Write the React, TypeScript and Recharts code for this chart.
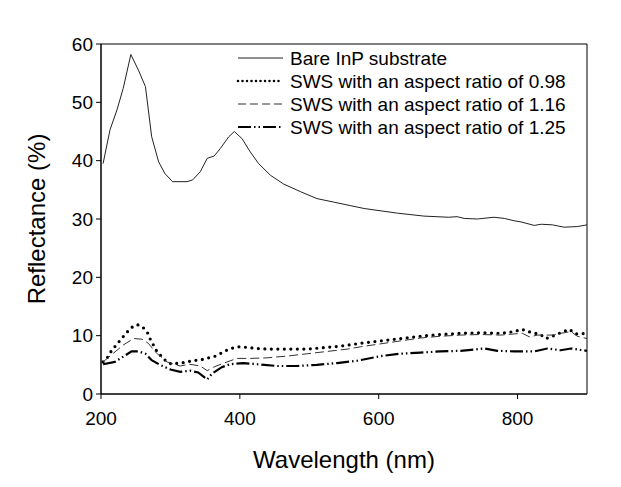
import { LineChart, Line, XAxis, YAxis, ReferenceArea, Legend } from "recharts";

// Bare InP substrate
const bareWl = [203, 213, 223, 232, 243, 254, 264, 273, 283, 292, 303, 324, 332, 343, 353, 363, 372, 384, 392, 403, 415, 427, 444, 463, 487, 511, 535, 559, 579, 627, 665, 701, 713, 723, 742, 766, 781, 795, 805, 824, 834, 850, 867, 886, 900];
const bareR = [39.5, 45.3, 48.7, 52.4, 58.2, 55.5, 52.7, 44.1, 39.8, 37.8, 36.4, 36.4, 36.7, 38.1, 40.4, 40.8, 42.1, 44.1, 45.0, 43.8, 41.5, 39.5, 37.5, 36.0, 34.7, 33.5, 32.9, 32.3, 31.8, 31.0, 30.5, 30.3, 30.4, 30.1, 30.0, 30.3, 30.1, 29.7, 29.5, 28.9, 29.1, 29.0, 28.6, 28.7, 29.0];

// SWS, aspect ratio 0.98
const sws098Wl = [203, 209, 215, 236, 244, 252, 260, 267, 271, 280, 288, 295, 302, 312, 321, 331, 338, 345, 355, 365, 373, 381, 390, 398, 410, 425, 439, 468, 497, 526, 545, 574, 603, 631, 660, 689, 718, 747, 776, 795, 806, 815, 833, 841, 850, 860, 874, 884, 900];
const sws098R = [5.5, 6.2, 7.4, 10.4, 11.4, 11.9, 11.5, 10.5, 9.4, 7.4, 6.3, 5.5, 5.1, 5.3, 5.4, 5.7, 5.8, 5.9, 6.2, 6.5, 7.0, 7.5, 7.9, 8.1, 8.0, 7.8, 7.7, 7.7, 7.7, 8.0, 8.2, 8.7, 9.1, 9.5, 9.9, 10.2, 10.4, 10.5, 10.4, 10.7, 11.1, 10.7, 10.2, 9.5, 9.9, 10.4, 11.1, 10.3, 10.4];

// SWS, aspect ratio 1.16
const sws116Wl = [203, 218, 232, 247, 259, 268, 280, 295, 314, 328, 343, 353, 362, 377, 396, 415, 439, 468, 497, 526, 555, 574, 603, 631, 660, 689, 718, 747, 776, 795, 807, 817, 829, 841, 852, 862, 877, 886, 900];
const sws116R = [5.5, 7.0, 8.4, 9.5, 9.4, 8.7, 7.0, 5.5, 4.8, 5.1, 4.8, 4.0, 4.6, 5.3, 6.1, 6.1, 6.2, 6.5, 6.9, 7.3, 7.7, 8.1, 8.6, 9.1, 9.6, 9.9, 10.1, 10.2, 10.1, 10.3, 10.4, 9.8, 10.1, 10.1, 10.1, 10.4, 10.7, 9.9, 9.5];

// SWS, aspect ratio 1.25
const sws125Wl = [203, 220, 232, 244, 254, 264, 273, 285, 300, 314, 328, 340, 353, 360, 374, 386, 405, 425, 454, 482, 511, 540, 569, 603, 631, 660, 689, 718, 752, 771, 795, 824, 843, 862, 877, 900];
const sws125R = [5.1, 5.5, 6.4, 7.3, 7.3, 6.9, 5.8, 5.0, 4.2, 3.8, 4.0, 3.7, 2.5, 3.5, 4.6, 5.1, 5.3, 5.1, 4.8, 4.8, 5.0, 5.3, 5.7, 6.5, 6.9, 7.1, 7.3, 7.4, 7.8, 7.4, 7.3, 7.3, 7.8, 7.5, 7.8, 7.4];

const xTicks = [200, 400, 600, 800];
const yTicks = [0, 10, 20, 30, 40, 50, 60];

const toRows = (wl: number[], r: number[]) => wl.map((w, i) => ({ wl: w, r: r[i] }));

const series = [
  { name: "Bare InP substrate", data: toRows(bareWl, bareR), stroke: "#222", width: 1, dash: undefined, cap: "butt" },
  { name: "SWS with an aspect ratio of 0.98", data: toRows(sws098Wl, sws098R), stroke: "#000", width: 3.2, dash: "0 6.5", cap: "round" },
  { name: "SWS with an aspect ratio of 1.16", data: toRows(sws116Wl, sws116R), stroke: "#333", width: 1, dash: "9 4", cap: "butt" },
  { name: "SWS with an aspect ratio of 1.25", data: toRows(sws125Wl, sws125R), stroke: "#000", width: 2.2, dash: "13 3 1.5 3 1.5 3", cap: "butt" },
];

const font = "'Liberation Sans', Arial, sans-serif";

function LegendBox() {
  return (
    <svg width={360} height={96} style={{ display: "block", fontFamily: font }}>
      {series.map((s, i) => {
        const y = 13 + i * 23;
        return (
          <g key={s.name}>
            <line
              x1={8}
              x2={53}
              y1={y}
              y2={y}
              stroke={s.stroke}
              strokeWidth={s.dash === "0 6.5" ? 2.6 : s.width}
              strokeDasharray={s.dash === "0 6.5" ? "0 4.5" : s.dash === "9 4" ? "8 4" : s.dash}
              strokeLinecap={s.cap as any}
            />
            <text x={60} y={y} dy="0.36em" fontSize={19} fill="#000">
              {s.name}
            </text>
          </g>
        );
      })}
    </svg>
  );
}

function YTitle(props: any) {
  const vb = props.viewBox;
  const cy = vb.y + vb.height / 2;
  return (
    <text x={45} y={cy} transform={`rotate(-90, 45, ${cy})`} textAnchor="middle" fontSize={24} fill="#000" fontFamily={font}>
      Reflectance (%)
    </text>
  );
}

function XTitle(props: any) {
  const vb = props.viewBox;
  return (
    <text x={vb.x + vb.width / 2} y={468} textAnchor="middle" fontSize={24} fill="#000" fontFamily={font}>
      Wavelength (nm)
    </text>
  );
}

export default function App() {
  return (
    <div style={{ position: "absolute", left: 0, top: 0, background: "#fff", fontFamily: font }}>
      <LineChart width={621} height={487} margin={{ top: 44, right: 34, left: 41, bottom: 0 }}>
        <XAxis
          dataKey="wl"
          type="number"
          domain={[200, 900]}
          ticks={xTicks}
          allowDataOverflow
          height={93}
          tickSize={5}
          tickMargin={13}
          stroke="#000"
          tick={{ fill: "#000", fontSize: 19 }}
          label={<XTitle />}
        />
        <YAxis
          type="number"
          domain={[0, 60]}
          ticks={yTicks}
          width={60}
          tickSize={5}
          tickMargin={3}
          stroke="#000"
          tick={{ fill: "#000", fontSize: 19 }}
          label={<YTitle />}
        />
        <ReferenceArea x1={200} x2={900} y1={0} y2={60} fill="none" stroke="#000" strokeWidth={1} />
        {series.map((s) => (
          <Line
            key={s.name}
            data={s.data}
            dataKey="r"
            name={s.name}
            type="linear"
            stroke={s.stroke}
            strokeWidth={s.width}
            strokeDasharray={s.dash}
            strokeLinecap={s.cap as any}
            dot={false}
            activeDot={false}
            isAnimationActive={false}
          />
        ))}
        <Legend
          layout="vertical"
          align="center"
          verticalAlign="middle"
          wrapperStyle={{ left: 230, top: 45, width: 360 }}
          content={() => <LegendBox />}
        />
      </LineChart>
    </div>
  );
}
